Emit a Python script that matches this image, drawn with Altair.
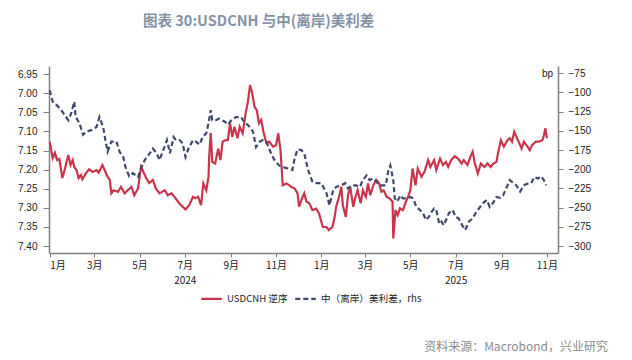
import altair as alt
import pandas as pd

red_dates = ["2024-01-01","2024-01-05","2024-01-08","2024-01-11","2024-01-14","2024-01-18","2024-01-21","2024-01-26","2024-01-29",
"2024-02-01","2024-02-03","2024-02-06","2024-02-09","2024-02-12","2024-02-14","2024-02-19","2024-02-23","2024-02-28",
"2024-03-04","2024-03-07","2024-03-12","2024-03-15","2024-03-19","2024-03-22","2024-03-24","2024-03-27",
"2024-04-02","2024-04-06","2024-04-11","2024-04-15","2024-04-20","2024-04-24","2024-04-29",
"2024-05-03","2024-05-05","2024-05-10","2024-05-14","2024-05-19","2024-05-23","2024-05-28",
"2024-06-04","2024-06-08","2024-06-13","2024-06-17","2024-06-22","2024-06-26",
"2024-07-02","2024-07-07","2024-07-12","2024-07-15","2024-07-19","2024-07-23","2024-07-26","2024-07-30",
"2024-08-02","2024-08-03","2024-08-05","2024-08-07","2024-08-11","2024-08-15","2024-08-18","2024-08-21","2024-08-25","2024-08-28","2024-08-31",
"2024-09-03","2024-09-06","2024-09-10","2024-09-13","2024-09-17","2024-09-21","2024-09-24","2024-09-27","2024-09-30",
"2024-10-03","2024-10-06","2024-10-09","2024-10-12","2024-10-15","2024-10-19","2024-10-23","2024-10-28",
"2024-11-01","2024-11-04","2024-11-07","2024-11-10","2024-11-15","2024-11-19","2024-11-21","2024-11-26","2024-11-30",
"2024-12-02","2024-12-06","2024-12-09","2024-12-12","2024-12-16","2024-12-20","2024-12-25","2024-12-29",
"2025-01-03","2025-01-08","2025-01-11","2025-01-16","2025-01-19","2025-01-21","2025-01-25","2025-01-28","2025-01-30",
"2025-02-03","2025-02-06","2025-02-09","2025-02-13","2025-02-16","2025-02-19","2025-02-23","2025-02-26",
"2025-03-02","2025-03-05","2025-03-08","2025-03-12","2025-03-16","2025-03-20","2025-03-23","2025-03-26","2025-03-30",
"2025-04-03","2025-04-07","2025-04-08","2025-04-11","2025-04-14","2025-04-17","2025-04-21","2025-04-25","2025-04-28",
"2025-05-01","2025-05-04","2025-05-08","2025-05-11","2025-05-16","2025-05-20","2025-05-25","2025-05-28",
"2025-06-02","2025-06-05","2025-06-10","2025-06-14","2025-06-18","2025-06-21","2025-06-25","2025-06-30",
"2025-07-04","2025-07-09","2025-07-12","2025-07-17","2025-07-21","2025-07-24","2025-07-27","2025-07-31",
"2025-08-04","2025-08-09","2025-08-13","2025-08-17","2025-08-21","2025-08-25","2025-08-28","2025-08-31",
"2025-09-04","2025-09-09","2025-09-12","2025-09-15","2025-09-18","2025-09-21","2025-09-24","2025-09-28",
"2025-10-01","2025-10-06","2025-10-09","2025-10-12","2025-10-17","2025-10-21","2025-10-26","2025-10-28","2025-10-30",
"2025-11-01"]

red_vals = [7.127,7.170,7.156,7.175,7.172,7.222,7.201,7.162,7.188,
7.175,7.193,7.201,7.222,7.214,7.225,7.209,7.199,7.206,
7.201,7.208,7.188,7.201,7.219,7.227,7.262,7.254,
7.258,7.245,7.262,7.254,7.245,7.267,7.249,
7.193,7.201,7.222,7.235,7.227,7.249,7.262,
7.254,7.267,7.262,7.271,7.284,7.293,
7.304,7.293,7.271,7.275,7.271,7.293,7.236,7.254,
7.219,7.162,7.104,7.180,7.184,7.145,7.175,7.127,7.123,7.123,7.079,
7.114,7.088,7.118,7.088,7.105,7.053,7.023,6.979,7.001,
7.036,7.044,7.079,7.070,7.101,7.131,7.127,7.140,
7.136,7.105,7.149,7.241,7.236,7.241,7.245,7.249,7.262,
7.297,7.275,7.262,7.284,7.288,7.306,7.302,7.315,
7.350,7.350,7.358,7.350,7.324,7.297,7.271,7.245,7.293,
7.324,7.267,7.245,7.297,7.272,7.254,7.288,7.254,
7.271,7.236,7.267,7.241,7.227,7.236,7.258,7.254,7.271,
7.275,7.284,7.380,7.306,7.319,7.301,7.306,7.284,7.271,
7.254,7.197,7.241,7.197,7.219,7.206,7.175,7.193,
7.175,7.201,7.171,7.188,7.180,7.193,7.175,7.165,
7.171,7.184,7.175,7.188,7.166,7.153,7.184,7.210,
7.184,7.193,7.184,7.193,7.184,7.180,7.149,7.123,
7.140,7.123,7.118,7.127,7.101,7.114,7.127,7.145,
7.127,7.140,7.149,7.136,7.127,7.127,7.123,7.110,7.092,
7.118]

blue_dates = ["2024-01-01","2024-01-05","2024-01-12","2024-01-18","2024-01-26","2024-01-30",
"2024-02-03","2024-02-05","2024-02-10","2024-02-15","2024-02-19","2024-02-26",
"2024-03-04","2024-03-08","2024-03-13","2024-03-16","2024-03-19","2024-03-24","2024-03-31",
"2024-04-04","2024-04-09","2024-04-12","2024-04-17","2024-04-22","2024-04-29",
"2024-05-03","2024-05-08","2024-05-15","2024-05-19","2024-05-24","2024-05-28",
"2024-06-02","2024-06-07","2024-06-11","2024-06-16","2024-06-19","2024-06-24","2024-06-28",
"2024-07-02","2024-07-06","2024-07-12","2024-07-16","2024-07-21","2024-07-25","2024-07-30",
"2024-08-02","2024-08-05","2024-08-07","2024-08-12","2024-08-16","2024-08-20","2024-08-24","2024-08-28",
"2024-09-02","2024-09-08","2024-09-15","2024-09-20","2024-09-24",
"2024-10-01","2024-10-05","2024-10-10","2024-10-14","2024-10-19","2024-10-26","2024-10-30",
"2024-11-05","2024-11-10","2024-11-17","2024-11-23","2024-11-26","2024-11-30",
"2024-12-05","2024-12-09","2024-12-12","2024-12-15","2024-12-20","2024-12-25",
"2025-01-01","2025-01-08","2025-01-12","2025-01-17","2025-01-21","2025-01-28",
"2025-02-02","2025-02-06","2025-02-11","2025-02-17","2025-02-22","2025-02-26",
"2025-03-03","2025-03-07","2025-03-12","2025-03-16","2025-03-21","2025-03-25","2025-03-29",
"2025-04-01","2025-04-04","2025-04-08","2025-04-10","2025-04-13","2025-04-18","2025-04-21","2025-04-26",
"2025-05-01","2025-05-05","2025-05-09","2025-05-14","2025-05-18","2025-05-22","2025-05-26","2025-05-30",
"2025-06-02","2025-06-05","2025-06-09","2025-06-12","2025-06-15","2025-06-19","2025-06-22","2025-06-27",
"2025-07-01","2025-07-05","2025-07-10","2025-07-14","2025-07-19","2025-07-24","2025-07-28",
"2025-08-03","2025-08-07","2025-08-12","2025-08-16","2025-08-21","2025-08-25","2025-08-30",
"2025-09-03","2025-09-08","2025-09-12","2025-09-17","2025-09-21","2025-09-26",
"2025-10-01","2025-10-05","2025-10-11","2025-10-15","2025-10-20","2025-10-24","2025-10-28","2025-10-31"]

blue_vals = [-97,-112,-118,-125,-136,-127,
-112,-132,-140,-155,-151,-149,
-145,-132,-145,-162,-177,-164,-164,
-177,-184,-197,-209,-205,-210,
-199,-188,-179,-173,-179,-188,
-175,-162,-179,-158,-162,-162,-166,
-184,-173,-162,-164,-168,-158,-153,
-140,-123,-136,-136,-134,-136,-138,-142,
-136,-132,-132,-140,-142,
-151,-171,-164,-162,-164,-181,-188,
-195,-197,-199,-201,-186,-174,
-175,-179,-192,-203,-216,-218,
-218,-231,-247,-227,-223,-221,
-218,-225,-221,-221,-223,-214,
-208,-214,-212,-216,-221,-221,-221,
-203,-195,-214,-238,-242,-234,-238,-238,
-236,-238,-249,-253,-257,-266,-262,-255,
-251,-253,-271,-268,-273,-264,-257,-253,
-262,-264,-273,-279,-268,-264,-257,
-249,-244,-240,-249,-243,-236,-237,
-234,-223,-214,-218,-221,-229,
-221,-219,-218,-210,-212,-209,-214,-221]

series_names = ["USDCNH 逆序", "中（离岸）美利差，rhs"]
series_colors = ["#c8354d", "#3f4a6a"]
left_ticks = [6.95, 7.00, 7.05, 7.10, 7.15, 7.20, 7.25, 7.30, 7.35, 7.40]
right_ticks = [-75, -100, -125, -150, -175, -200, -225, -250, -275, -300]
x_tick_months = [(2024, 1), (2024, 3), (2024, 5), (2024, 7), (2024, 9), (2024, 11),
                 (2025, 1), (2025, 3), (2025, 5), (2025, 7), (2025, 9), (2025, 11)]
title_text = "图表 30:USDCNH 与中(离岸)美利差"
source_text = "资料来源：Macrobond，兴业研究"

red_df = pd.DataFrame({"date": red_dates, "value": red_vals, "series": series_names[0]})
blue_df = pd.DataFrame({"date": blue_dates, "value": blue_vals, "series": series_names[1]})
src_df = pd.DataFrame({"t": [source_text]})

FONT = "Liberation Sans, Noto Sans CJK SC"
CJK = "Noto Sans CJK SC"

x_enc = alt.X(
    "date:T",
    scale=alt.Scale(type="utc", domain=[alt.DateTime(year=2023, month=12, date=31, utc=True),
                                        alt.DateTime(year=2025, month=11, date=16, utc=True)]),
    axis=alt.Axis(
        values=[alt.DateTime(year=y, month=m, date=1, utc=True) for y, m in x_tick_months],
        labelExpr="[(utcmonth(datum.value)+1) + '月', utcmonth(datum.value) == 6 ? '' + utcyear(datum.value) : '']",
        title=None, grid=False, tickSize=4, labelPadding=3, labelFont=CJK, labelFontSize=10,
        labelLineHeight=15, labelColor="#222", domainColor="#808080", domainWidth=1.5,
        tickColor="#808080", labelAngle=0,
    ),
)

legend_cfg = dict(title=None, orient="none", legendX=151, legendY=221,
                  direction="horizontal", symbolType="stroke",
                  symbolSize=420, symbolStrokeWidth=2.2,
                  labelFont=CJK, labelFontSize=9.6, labelColor="#222",
                  columnPadding=2, labelOffset=4)

color_enc = alt.Color("series:N", scale=alt.Scale(domain=series_names, range=series_colors),
                      legend=alt.Legend(**legend_cfg))
dash_enc = alt.StrokeDash("series:N", scale=alt.Scale(domain=series_names, range=[[1, 0], [5, 3]]),
                          legend=alt.Legend(**legend_cfg))

left = alt.Chart(red_df).mark_line(strokeWidth=2.2).encode(
    x=x_enc,
    y=alt.Y("value:Q",
            scale=alt.Scale(domain=[6.929, 7.418], reverse=True, nice=False, zero=False),
            axis=alt.Axis(values=left_ticks, format=".2f", title=None, grid=False, orient="left",
                          tickSize=6, labelPadding=6, labelFont=FONT, labelFontSize=10,
                          labelColor="#222", domainColor="#808080", domainWidth=1.5,
                          tickColor="#808080")),
    color=color_enc,
    strokeDash=dash_enc,
)

right = alt.Chart(blue_df).mark_line(strokeWidth=2.2).encode(
    x=x_enc,
    y=alt.Y("value:Q",
            scale=alt.Scale(domain=[-309, -65.5], nice=False, zero=False),
            axis=alt.Axis(values=right_ticks, format="d", title="bp", titleAngle=0, titleX=-11,
                          titleY=7, titleAlign="center", titleBaseline="middle", titleFont=FONT,
                          titleFontSize=10, titleFontWeight="normal", titleColor="#222",
                          grid=False, orient="right", tickSize=5, labelPadding=5,
                          labelFont=FONT, labelFontSize=10, labelColor="#222",
                          domainColor="#808080", domainWidth=1.5, tickColor="#808080")),
    color=color_enc,
    strokeDash=dash_enc,
)

source = alt.Chart(src_df).mark_text(align="right", baseline="middle", font=CJK, fontSize=12,
                                      color="#8c8c8c").encode(
    x=alt.value(559), y=alt.value(281), text="t:N")

chart = alt.layer(left, right, source).resolve_scale(y="independent").properties(
    width=509, height=187,
    autosize="none",
    padding={"left": 41, "top": 58, "right": 66, "bottom": 104},
    title=alt.TitleParams(title_text, anchor="start", frame="group", dx=94, offset=37, font=CJK,
                          fontSize=14.5, fontWeight="bold", color="#8592a6"),
).configure_view(stroke=None)

chart.save("out.html", embed_options={"renderer": "svg", "actions": False})
